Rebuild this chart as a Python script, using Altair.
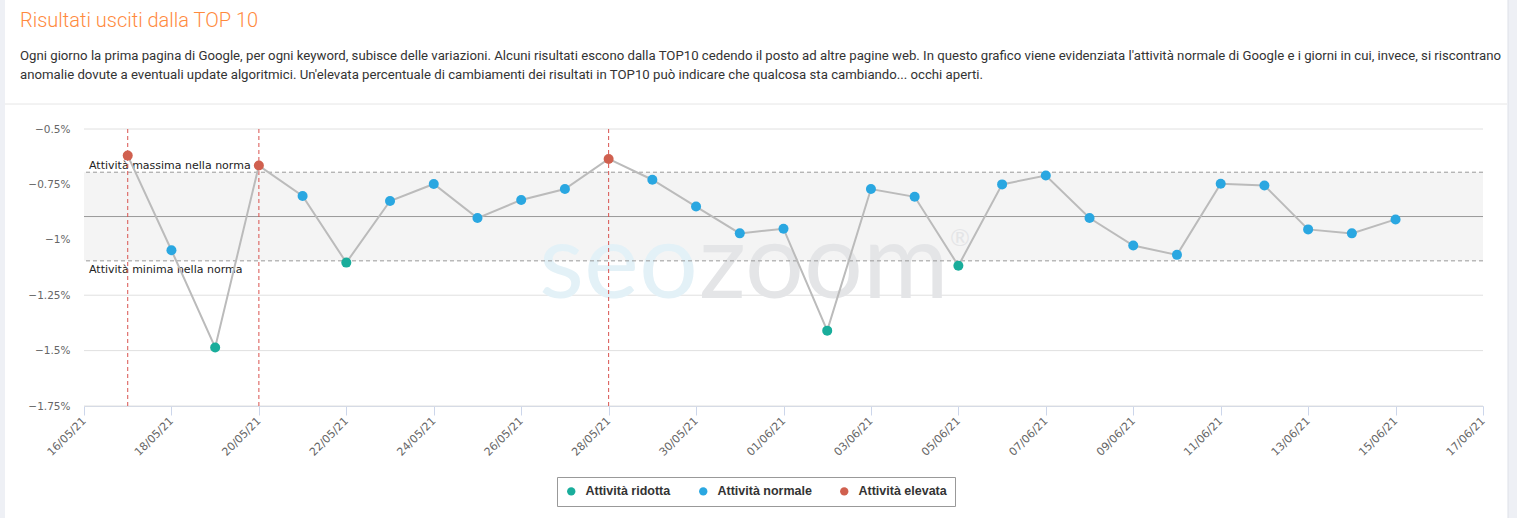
import altair as alt
import pandas as pd

# ---------------- data ----------------
dates = [
    "2021-05-17", "2021-05-18", "2021-05-19", "2021-05-20", "2021-05-21",
    "2021-05-22", "2021-05-23", "2021-05-24", "2021-05-25", "2021-05-26",
    "2021-05-27", "2021-05-28", "2021-05-29", "2021-05-30", "2021-05-31",
    "2021-06-01", "2021-06-02", "2021-06-03", "2021-06-04", "2021-06-05",
    "2021-06-06", "2021-06-07", "2021-06-08", "2021-06-09", "2021-06-10",
    "2021-06-11", "2021-06-12", "2021-06-13", "2021-06-14", "2021-06-15",
]
values = [
    -0.620, -1.047, -1.486, -0.665, -0.802,
    -1.103, -0.825, -0.748, -0.902, -0.820,
    -0.771, -0.635, -0.729, -0.850, -0.971,
    -0.950, -1.410, -0.771, -0.806, -1.117,
    -0.750, -0.710, -0.902, -1.026, -1.068,
    -0.747, -0.755, -0.953, -0.971, -0.908,
]
E, N, R = "Attività elevata", "Attività normale", "Attività ridotta"
categories = [
    E, N, R, E, N,
    R, N, N, N, N,
    N, E, N, N, N,
    N, R, N, N, R,
    N, N, N, N, N,
    N, N, N, N, N,
]
legend_order = [R, N, E]
legend_colors = ["#19ad9b", "#2aa7e1", "#d0604f"]

upper_limit = -0.695
mean_level = -0.895
lower_limit = -1.095
upper_label = "Attività massima nella norma"
lower_label = "Attività minima nella norma"

y_ticks = [-0.5, -0.75, -1.0, -1.25, -1.5, -1.75]
x_tick_days = [(5, d) for d in range(16, 32, 2)] + [(6, d) for d in range(1, 18, 2)]

title_text = "Risultati usciti dalla TOP 10"
description = [
    "Ogni giorno la prima pagina di Google, per ogni keyword, subisce delle variazioni. "
    "Alcuni risultati escono dalla TOP10 cedendo il posto ad altre pagine web. "
    "In questo grafico viene evidenziata l'attività normale di Google e i giorni in cui, invece, si riscontrano",
    "anomalie dovute a eventuali update algoritmici. Un'elevata percentuale di cambiamenti "
    "dei risultati in TOP10 può indicare che qualcosa sta cambiando... occhi aperti.",
]

df = pd.DataFrame({"date": dates, "value": values, "category": categories})
limits_df = pd.DataFrame({"value": [upper_limit, lower_limit]})
mean_df = pd.DataFrame({"value": [mean_level]})
band_df = pd.DataFrame({"hi": [upper_limit], "lo": [lower_limit]})
grid_df = pd.DataFrame({"value": y_ticks})
one = pd.DataFrame({"k": [0]})

W, H = 1399, 277
PAD_L, PAD_T = 84, 129

x_enc = alt.X(
    "date:T",
    scale=alt.Scale(
        type="utc",
        domain=[alt.DateTime(year=2021, month=5, date=16, utc=True),
                alt.DateTime(year=2021, month=6, date=17, utc=True)],
    ),
    axis=alt.Axis(
        title=None,
        values=[alt.DateTime(year=2021, month=m, date=d, utc=True) for m, d in x_tick_days],
        format="%d/%m/%y",
        labelAngle=-45,
        labelAlign="right",
        labelBaseline="middle",
        labelFont="DejaVu Sans",
        labelFontSize=11,
        labelColor="#666666",
        labelPadding=4,
        labelOverlap=False,
        labelFlush=False,
        domainColor="#ccd6eb",
        tickColor="#ccd6eb",
        tickSize=9,
        grid=False,
    ),
)
y_scale = alt.Scale(domain=[-1.75, -0.5], nice=False, zero=False)
y_enc = alt.Y(
    "value:Q",
    scale=y_scale,
    axis=alt.Axis(
        title=None,
        values=y_ticks,
        labelExpr="'\u2212' + toString(-datum.value) + '%'",
        labelFont="DejaVu Sans",
        labelFontSize=10.5,
        labelColor="#666666",
        labelPadding=14,
        ticks=False,
        domain=False,
        grid=False,
    ),
)

# page side strips, header texts and separator
left_strip = alt.Chart(one).mark_rect(color="#eef0f5").encode(
    x=alt.value(-PAD_L), x2=alt.value(-PAD_L + 5), y=alt.value(-PAD_T), y2=alt.value(518 - PAD_T))
right_strip = alt.Chart(one).mark_rect(color="#eef0f5", stroke="#dde0e8", strokeWidth=1).encode(
    x=alt.value(1508 - PAD_L), x2=alt.value(1520 - PAD_L), y=alt.value(-PAD_T - 2), y2=alt.value(520 - PAD_T))
separator = alt.Chart(one).mark_rule(color="#e6e6e6", strokeWidth=1).encode(
    x=alt.value(5 - PAD_L), x2=alt.value(1507 - PAD_L), y=alt.value(104 - PAD_T))

title_mark = alt.Chart(one).mark_text(
    text=title_text, font="Roboto", fontSize=20, fontWeight=300, color="#ff8a3d",
    align="left", baseline="alphabetic").encode(x=alt.value(20 - PAD_L), y=alt.value(27 - PAD_T))
desc1 = alt.Chart(one).mark_text(
    text=description[0], font="Roboto", fontSize=13.2, color="#333333",
    align="left", baseline="alphabetic").encode(x=alt.value(20 - PAD_L), y=alt.value(60 - PAD_T))
desc2 = alt.Chart(one).mark_text(
    text=description[1], font="Roboto", fontSize=13.2, color="#333333",
    align="left", baseline="alphabetic").encode(x=alt.value(20 - PAD_L), y=alt.value(79 - PAD_T))

band = alt.Chart(band_df).mark_rect(color="#f4f4f4").encode(
    y=alt.Y("hi:Q", scale=y_scale), y2="lo:Q", x=alt.value(0), x2=alt.value(W))
grid = alt.Chart(grid_df).mark_rule(color="#e0e0e0", strokeWidth=1).encode(
    y=alt.Y("value:Q", scale=y_scale))

wm_seo = alt.Chart(one).mark_text(
    text="seo", font="Lato", fontSize=104, align="right", baseline="alphabetic",
    color="#e3f1f7").encode(x=alt.value(614), y=alt.value(169))
wm_zoom = alt.Chart(one).mark_text(
    text="zoom", font="Lato", fontSize=104, align="left", baseline="alphabetic",
    color="#e4e5e7").encode(x=alt.value(615), y=alt.value(169))
wm_r = alt.Chart(one).mark_text(
    text="®", font="Lato", fontSize=24, align="left", baseline="middle",
    color="#e4e5e7").encode(x=alt.value(866), y=alt.value(110))

limits = alt.Chart(limits_df).mark_rule(color="#999999", strokeDash=[4, 3], strokeWidth=1).encode(
    y=alt.Y("value:Q", scale=y_scale))
mean_line = alt.Chart(mean_df).mark_rule(color="#999999", strokeWidth=1).encode(
    y=alt.Y("value:Q", scale=y_scale))

upper_text = alt.Chart(pd.DataFrame({"value": [upper_limit], "t": [upper_label]})).mark_text(
    align="left", baseline="bottom", dy=-1, font="DejaVu Sans", fontSize=11,
    color="#222222").encode(x=alt.value(5), y=alt.Y("value:Q", scale=y_scale), text="t:N")
lower_text = alt.Chart(pd.DataFrame({"value": [lower_limit], "t": [lower_label]})).mark_text(
    align="left", baseline="top", dy=3, font="DejaVu Sans", fontSize=11,
    color="#222222").encode(x=alt.value(5), y=alt.Y("value:Q", scale=y_scale), text="t:N")

base = alt.Chart(df)
spikes = base.transform_filter(alt.datum.category == E).mark_rule(
    color="#d9534f", strokeDash=[4, 3], strokeWidth=1).encode(x=x_enc)
line = base.mark_line(color="#bbbbbb", strokeWidth=2).encode(x=x_enc, y=y_enc)
points = base.mark_circle(size=100, opacity=1).encode(
    x=x_enc,
    y=y_enc,
    color=alt.Color(
        "category:N",
        scale=alt.Scale(domain=legend_order, range=legend_colors),
        legend=alt.Legend(
            title=None,
            orient="none",
            legendX=473,
            legendY=348,
            direction="horizontal",
            symbolType="circle",
            symbolSize=70,
            symbolStrokeWidth=0,
            labelFont="Liberation Sans",
            labelFontWeight="bold",
            labelFontSize=12.5,
            labelColor="#333333",
            labelOffset=8,
            columnPadding=26,
            padding=8,
            strokeColor="#999999",
            fillColor="white",
        ),
    ),
)

chart = alt.layer(
    left_strip, right_strip, separator, title_mark, desc1, desc2,
    grid, band, wm_seo, wm_zoom, wm_r, limits, mean_line,
    upper_text, lower_text, spikes, line, points,
).properties(
    width=W,
    height=H,
    padding={"left": PAD_L, "top": PAD_T, "right": 1517 - PAD_L - W, "bottom": 518 - PAD_T - H},
    autosize=alt.AutoSizeParams(type="none"),
    background="white",
).configure_view(stroke=None)

chart.save("out.html", embed_options={"renderer": "svg", "actions": False})
